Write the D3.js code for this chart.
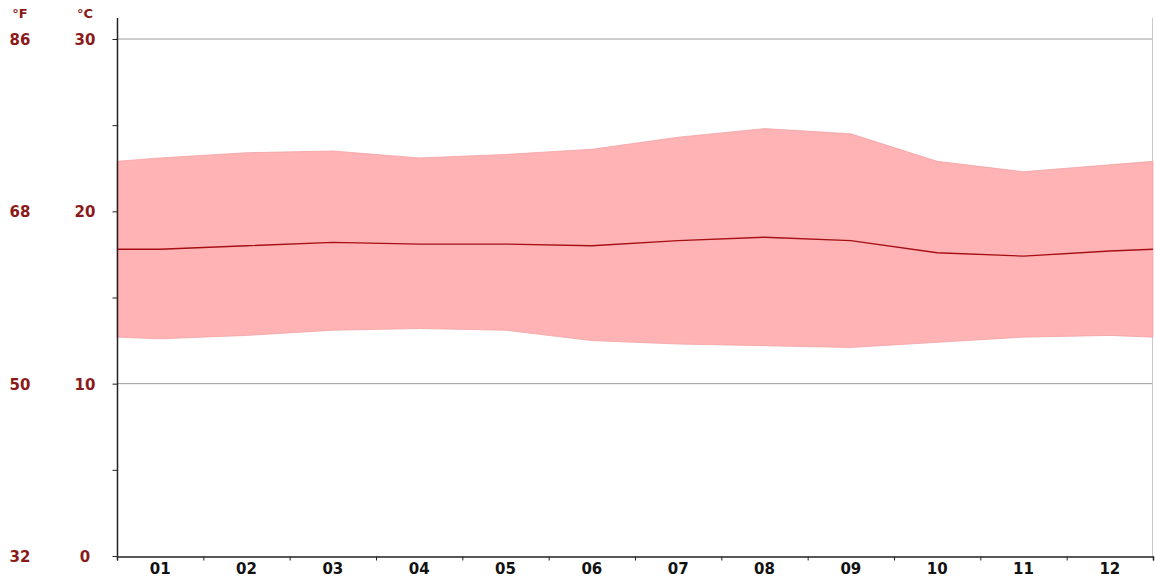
<!DOCTYPE html>
<html>
<head>
<meta charset="utf-8">
<script src="https://cdn.jsdelivr.net/npm/d3@7"></script>
<style>
  body { margin: 0; background: #fff; }
  text { font-family: "DejaVu Sans", sans-serif; font-weight: bold; }
</style>
</head>
<body>
<div id="vis"></div>
<script>
// months along the bottom
var months = ['01', '02', '03', '04', '05', '06', '07', '08', '09', '10', '11', '12'];
// average daily max / mean / min, degrees C
var tMax  = [23.1, 23.4, 23.5, 23.1, 23.3, 23.6, 24.3, 24.8, 24.5, 22.9, 22.3, 22.7];
var tMean = [17.8, 18.0, 18.2, 18.1, 18.1, 18.0, 18.3, 18.5, 18.3, 17.6, 17.4, 17.7];
var tMin  = [12.6, 12.8, 13.1, 13.2, 13.1, 12.5, 12.3, 12.2, 12.1, 12.4, 12.7, 12.8];
// value at the left/right plot edges (year wraps around)
var edgeMax = 22.9, edgeMean = 17.8, edgeMin = 12.7;
// y axis labels
var cTicks = [0, 10, 20, 30];
var fTicks = ['32', '50', '68', '86'];

var width = 1155, height = 578;
var margin = { top: 18, left: 117, bottom: 22, right: 2 };

var svg = d3.select('#vis').append('svg')
  .attr('width', width)
  .attr('height', height);

var x = d3.scaleLinear().domain([0, 12]).range([margin.left, width - margin.right]);
var y = d3.scaleLinear().domain([0, 30]).range([height - margin.bottom, 39]);

// points: left edge, month centres, right edge
var pts = [{ i: 0, hi: edgeMax, mid: edgeMean, lo: edgeMin }];
for (var k = 0; k < months.length; k++) {
  pts.push({ i: k + 0.5, hi: tMax[k], mid: tMean[k], lo: tMin[k] });
}
pts.push({ i: 12, hi: edgeMax, mid: edgeMean, lo: edgeMin });

// grid lines
svg.append('g')
  .selectAll('line')
  .data([10, 20, 30])
  .enter().append('line')
  .attr('x1', x(0)).attr('x2', x(12))
  .attr('y1', function (d) { return y(d); })
  .attr('y2', function (d) { return y(d); })
  .attr('stroke', '#9a9a9a')
  .attr('stroke-width', 1);

// right border
svg.append('line')
  .attr('x1', x(12) - 0.5).attr('x2', x(12) - 0.5)
  .attr('y1', margin.top).attr('y2', y(0))
  .attr('stroke', '#c8c8c8');

// temperature band
var area = d3.area()
  .x(function (d) { return x(d.i); })
  .y0(function (d) { return y(d.lo); })
  .y1(function (d) { return y(d.hi); });

svg.append('path')
  .datum(pts)
  .attr('d', area)
  .attr('fill', '#ffb3b4')
  .attr('stroke', '#f2a2a4')
  .attr('stroke-width', 0.8);

// mean line
var line = d3.line()
  .x(function (d) { return x(d.i); })
  .y(function (d) { return y(d.mid); });

svg.append('path')
  .datum(pts)
  .attr('d', line)
  .attr('fill', 'none')
  .attr('stroke', '#a50f15')
  .attr('stroke-width', 1.4);

// left axis (C)
var yAxis = d3.axisLeft(y)
  .tickValues([0, 5, 10, 15, 20, 25, 30])
  .tickSize(5)
  .tickFormat('');

var ya = svg.append('g')
  .attr('transform', 'translate(' + (margin.left + 0.5) + ',0)')
  .call(yAxis);
ya.select('.domain').remove();
ya.selectAll('.tick line').attr('stroke', '#222');

svg.append('line')
  .attr('x1', margin.left + 0.5).attr('x2', margin.left + 0.5)
  .attr('y1', margin.top).attr('y2', y(0))
  .attr('stroke', '#222')
  .attr('stroke-width', 1.5);

var red = '#8b1a1a';

svg.selectAll('.c-label')
  .data(cTicks)
  .enter().append('text')
  .attr('class', 'c-label')
  .attr('x', 85)
  .attr('y', function (d) { return y(d) + 6; })
  .attr('text-anchor', 'middle')
  .attr('font-size', 15)
  .attr('fill', red)
  .text(function (d) { return d; });

svg.selectAll('.f-label')
  .data(fTicks)
  .enter().append('text')
  .attr('class', 'f-label')
  .attr('x', 20)
  .attr('y', function (d, i) { return y(cTicks[i]) + 6; })
  .attr('text-anchor', 'middle')
  .attr('font-size', 15)
  .attr('fill', red)
  .text(function (d) { return d; });

svg.append('text')
  .attr('x', 20).attr('y', 18)
  .attr('text-anchor', 'middle')
  .attr('font-size', 13)
  .attr('fill', red)
  .text('°F');

svg.append('text')
  .attr('x', 85).attr('y', 18)
  .attr('text-anchor', 'middle')
  .attr('font-size', 13)
  .attr('fill', red)
  .text('°C');

// bottom axis
var xAxis = d3.axisBottom(x)
  .tickValues(d3.range(0, 13))
  .tickSize(4)
  .tickFormat('');

var xa = svg.append('g')
  .attr('transform', 'translate(0,' + (y(0) + 0.5) + ')')
  .call(xAxis);
xa.select('.domain').attr('stroke', '#222').attr('stroke-width', 1.5);
xa.selectAll('.tick line').attr('stroke', '#222');

svg.selectAll('.m-label')
  .data(months)
  .enter().append('text')
  .attr('class', 'm-label')
  .attr('x', function (d, i) { return x(i + 0.5); })
  .attr('y', 574)
  .attr('text-anchor', 'middle')
  .attr('font-size', 15)
  .attr('fill', '#111')
  .text(function (d) { return d; });
</script>
</body>
</html>
